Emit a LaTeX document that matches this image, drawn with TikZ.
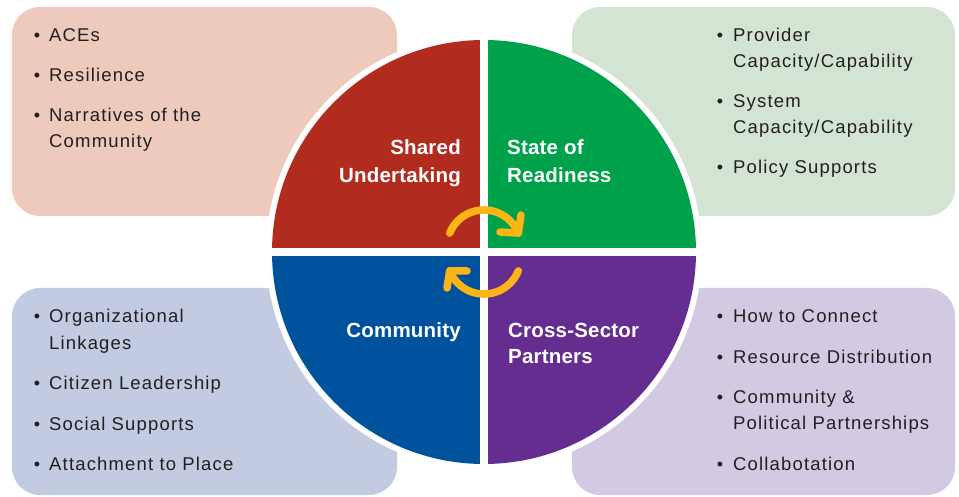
\documentclass[tikz,border=0pt]{standalone}
\usepackage{fontspec}
\setmainfont{Liberation Sans}
\newfontfamily\listfont[LetterSpace=6.3]{Liberation Sans}
\newfontfamily\labfont[LetterSpace=1]{Liberation Sans}
\definecolor{peach}{HTML}{EDCABB}
\definecolor{mint}{HTML}{D4E4D2}
\definecolor{sky}{HTML}{C3CBE3}
\definecolor{lav}{HTML}{D3C9E3}
\definecolor{qred}{HTML}{B12B1E}
\definecolor{qgreen}{HTML}{00A14B}
\definecolor{qblue}{HTML}{00529C}
\definecolor{qpurple}{HTML}{662D91}
\definecolor{gold}{HTML}{FDB515}
\definecolor{ink}{HTML}{231F20}
\tikzset{
  panel/.style={rounded corners=28pt},
  itemtext/.style={anchor=base west, inner sep=0pt, text=ink,
    font=\listfont\fontsize{18.5}{26}\selectfont},
  bul/.style={anchor=base, inner sep=0pt, text=ink, font=\fontsize{18}{26}\selectfont},
  qlabel/.style={inner sep=0pt, text=white, font=\labfont\bfseries\fontsize{20.5}{27.5}\selectfont},
  cyc/.style={draw=gold, line width=7.5pt, line cap=round, line join=round}
}
\begin{document}
\begin{tikzpicture}[x=1pt,y=1pt,yscale=-1]
\useasboundingbox (0,0) rectangle (959,497);
% panels
\fill[peach, panel] (12,7) rectangle (397,216);
\fill[mint, panel] (572,7) rectangle (955,216);
\fill[sky, panel] (12,288) rectangle (397,495);
\fill[lav, panel] (572,288) rectangle (955,495);
% circle
\fill[white] (484,252) circle[radius=218];
\begin{scope}
\clip (484,252) circle[radius=212];
\fill[qred] (260,30) rectangle (480,248);
\fill[qgreen] (488,30) rectangle (710,248);
\fill[qblue] (260,256) rectangle (480,475);
\fill[qpurple] (488,256) rectangle (710,475);
\end{scope}
% quadrant labels
\node[qlabel, anchor=base east] (shared) at (461,155) {Shared};
\node[qlabel, anchor=base east] (undert) at (461,183) {Undertaking};
\node[qlabel, anchor=base west] (stateof) at (507,155) {State of};
\node[qlabel, anchor=base west] (readiness) at (507,183) {Readiness};
\node[qlabel, anchor=base east] (community) at (461,337) {Community};
\node[qlabel, anchor=base west] (cross) at (508,337) {Cross-Sector};
\node[qlabel, anchor=base west] (partners) at (508,363) {Partners};
% cycle arrows
\coordinate (ta) at (449.7,233.1);
\coordinate (tb) at (518.3,233.1);
\draw[cyc] (ta) arc[start angle=202, end angle=338, radius=37];
\draw[cyc] (521,215) -- (tb) -- (500,232);
\coordinate (ba) at (518.3,270.9);
\coordinate (bb) at (449.7,270.9);
\draw[cyc] (ba) arc[start angle=22, end angle=158, radius=37];
\draw[cyc] (447,288) -- (bb) -- (467,271);
% top-left list
\node[bul] (b1) at (37,42) {•};
\node[itemtext] (t1) at (49,42) {ACEs};
\node[bul] (b2) at (37,82) {•};
\node[itemtext] (t2) at (49,82) {Resilience};
\node[bul] (b3) at (37,122) {•};
\node[itemtext] (t3) at (49,122) {Narratives of the};
\node[itemtext] (t3b) at (49,148) {Community};
% top-right list
\node[bul] (b4) at (720,42) {•};
\node[itemtext] (t4) at (733,42) {Provider};
\node[itemtext] (t4b) at (733,68) {Capacity/Capability};
\node[bul] (b5) at (720,108) {•};
\node[itemtext] (t5) at (733,108) {System};
\node[itemtext] (t5b) at (733,134) {Capacity/Capability};
\node[bul] (b6) at (720,174) {•};
\node[itemtext] (t6) at (733,174) {Policy Supports};
% bottom-left list
\node[bul] (b7) at (37,323) {•};
\node[itemtext] (t7) at (49,323) {Organizational};
\node[itemtext] (t7b) at (49,349) {Linkages};
\node[bul] (b8) at (37,389) {•};
\node[itemtext] (t8) at (49,389) {Citizen Leadership};
\node[bul] (b9) at (37,430) {•};
\node[itemtext] (t9) at (49,430) {Social Supports};
\node[bul] (b10) at (37,470) {•};
\node[itemtext] (t10) at (49,470) {Attachment to Place};
% bottom-right list
\node[bul] (b11) at (720,323) {•};
\node[itemtext] (t11) at (733,323) {How to Connect};
\node[bul] (b12) at (720,363) {•};
\node[itemtext] (t12) at (733,363) {Resource Distribution};
\node[bul] (b13) at (720,403) {•};
\node[itemtext] (t13) at (733,403) {Community \&};
\node[itemtext] (t13b) at (733,429) {Political Partnerships};
\node[bul] (b14) at (720,470) {•};
\node[itemtext] (t14) at (733,470) {Collabotation};
\end{tikzpicture}
\end{document}
